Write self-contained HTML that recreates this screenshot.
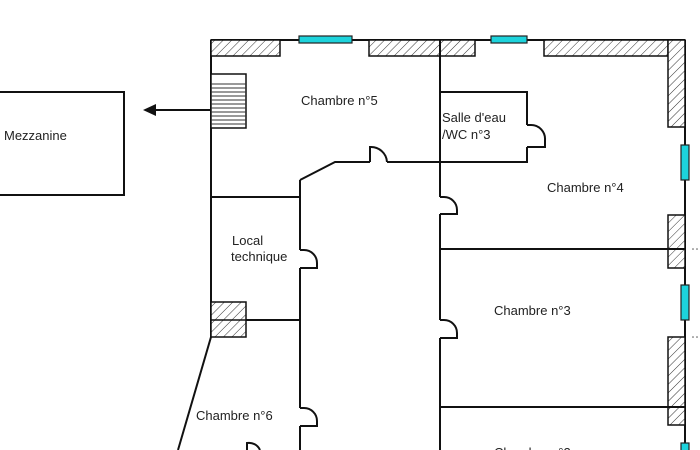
<!DOCTYPE html>
<html><head><style>
html,body{margin:0;padding:0;background:#fff;width:700px;height:450px;overflow:hidden}
svg{display:block}
text{font-family:"Liberation Sans",sans-serif;font-size:13px;fill:#222}
</style></head><body>
<svg width="700" height="450" viewBox="0 0 700 450" xmlns="http://www.w3.org/2000/svg">
<defs>
<pattern id="h" patternUnits="userSpaceOnUse" width="6" height="6" patternTransform="rotate(45)">
<rect width="6" height="6" fill="#fff"/><line x1="0" y1="0" x2="0" y2="6" stroke="#333" stroke-width="1"/>
</pattern>
</defs>
<g stroke="#111" stroke-width="2" fill="none">
<!-- top wall line -->
<line x1="211" y1="40" x2="685" y2="40"/>
<!-- right wall -->
<line x1="685" y1="40" x2="685" y2="450"/>
<!-- left wall -->
<line x1="211" y1="40" x2="211" y2="337"/>
<line x1="211" y1="337" x2="178" y2="450"/>
<!-- central wall -->
<line x1="440" y1="40" x2="440" y2="197"/>
<line x1="440" y1="214" x2="440" y2="320"/>
<line x1="440" y1="338" x2="440" y2="450"/>
<!-- hall wall -->
<line x1="300" y1="180" x2="300" y2="250"/>
<line x1="300" y1="268" x2="300" y2="408"/>
<line x1="300" y1="426" x2="300" y2="450"/>
<polyline points="300,180 335,162 370,162"/>
<line x1="387" y1="162" x2="440" y2="162"/>
<path d="M370,162 L370,147 A16,16 0 0 1 387,162"/>
<!-- salle d'eau -->
<polyline points="440,92 527,92 527,125"/>
<polyline points="527,147 527,162 440,162"/>
<path d="M527,125 L531,125 A14,14 0 0 1 545,140 L545,147 L527,147"/>
<!-- local technique -->
<line x1="211" y1="197" x2="300" y2="197"/>
<line x1="246" y1="320" x2="300" y2="320"/>
<path d="M300,250 L304,250 A13,13 0 0 1 317,263 L317,268 L300,268"/>
<path d="M300,408 L304,408 A13,13 0 0 1 317,421 L317,426 L300,426"/>
<path d="M247,450 L247,443 A12,12 0 0 1 260,450"/>
<!-- doors on central wall -->
<path d="M440,197 L444,197 A13,13 0 0 1 457,210 L457,214 L440,214"/>
<path d="M440,320 L444,320 A13,13 0 0 1 457,333 L457,338 L440,338"/>
<!-- room dividers -->
<line x1="440" y1="249" x2="685" y2="249"/>
<line x1="440" y1="407" x2="685" y2="407"/>
<!-- mezzanine -->
<rect x="-5" y="92" width="129" height="103"/>
<line x1="211" y1="110" x2="155" y2="110"/>
</g>
<polygon points="143,110 156,104 156,116" fill="#111"/>
<!-- hatched pillars -->
<g stroke="#111" stroke-width="1.5" fill="url(#h)">
<rect x="211" y="40" width="69" height="16"/>
<rect x="369" y="40" width="106" height="16"/>
<rect x="544" y="40" width="124" height="16"/>
<rect x="668" y="40" width="17" height="87"/>
<rect x="668" y="215" width="17" height="53"/>
<rect x="668" y="337" width="17" height="88"/>
<rect x="211" y="302" width="35" height="35"/>
</g>
<line x1="211" y1="320" x2="246" y2="320" stroke="#111" stroke-width="1.5"/>
<line x1="440" y1="40" x2="440" y2="56" stroke="#111" stroke-width="2"/>
<line x1="668" y1="249" x2="685" y2="249" stroke="#111" stroke-width="2"/>
<line x1="668" y1="407" x2="685" y2="407" stroke="#111" stroke-width="2"/>
<!-- stairs -->
<rect x="211" y="74" width="35" height="54" fill="#fff" stroke="#111" stroke-width="1.5"/>
<g stroke="#333" stroke-width="1">
<line x1="211" y1="84" x2="246" y2="84"/><line x1="211" y1="88" x2="246" y2="88"/>
<line x1="211" y1="92" x2="246" y2="92"/><line x1="211" y1="96" x2="246" y2="96"/>
<line x1="211" y1="100" x2="246" y2="100"/><line x1="211" y1="104" x2="246" y2="104"/>
<line x1="211" y1="108" x2="246" y2="108"/><line x1="211" y1="112" x2="246" y2="112"/>
<line x1="211" y1="116" x2="246" y2="116"/><line x1="211" y1="120" x2="246" y2="120"/>
<line x1="211" y1="124" x2="246" y2="124"/>
</g>
<!-- windows -->
<g fill="#1dd3dc" stroke="#222" stroke-width="1.2">
<rect x="299" y="36" width="53" height="7"/>
<rect x="491" y="36" width="36" height="7"/>
<rect x="681" y="145" width="8" height="35"/>
<rect x="681" y="285" width="8" height="35"/>
<rect x="681" y="443" width="8" height="10"/>
</g>
<g fill="#555">
<circle cx="693" cy="249" r="0.8"/><circle cx="697" cy="249" r="0.8"/>
<circle cx="693" cy="337" r="0.8"/><circle cx="697" cy="337" r="0.8"/>
</g>
<text x="301" y="105">Chambre n°5</text>
<text x="442" y="122">Salle d'eau</text>
<text x="442" y="139">/WC n°3</text>
<text x="547" y="192">Chambre n°4</text>
<text x="494" y="315">Chambre n°3</text>
<text x="494" y="457">Chambre n°2</text>
<text x="232" y="245">Local</text>
<text x="231" y="261">technique</text>
<text x="196" y="420">Chambre n°6</text>
<text x="4" y="140">Mezzanine</text>
</svg>
</body></html>
